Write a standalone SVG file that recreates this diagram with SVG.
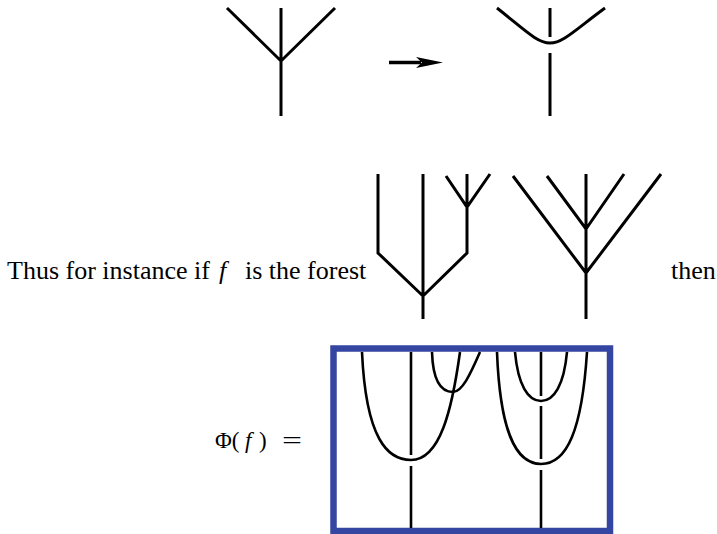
<svg xmlns="http://www.w3.org/2000/svg" width="717" height="534" viewBox="0 0 717 534">
<style>
.ln{fill:none;stroke:#000;stroke-width:3;stroke-linecap:butt;stroke-linejoin:miter}
.cv{fill:none;stroke:#000;stroke-width:2.6}
.tx{font-family:"Liberation Serif","Times New Roman",serif;fill:#000}
.box{fill:none;stroke:#3546a2;stroke-width:6.5}
</style>
<rect width="717" height="534" fill="#fff"/>
<g id="tree-before">
<path class="ln" d="M227,8 L281,61 L335,8 M281,8 L281,116"/>
</g>
<g id="connectors">
<path d="M389,62.5 L421,62.5" stroke="#000" stroke-width="3.5" fill="none"/>
<path d="M443,62.5 L416,57 L422,62.5 L416,68 Z" fill="#000"/>
</g>
<g id="tree-after">
<path class="ln" d="M497,8 C525,30 537,43 550,43 C563,43 575,30 605,8"/>
<path class="ln" d="M550,8 L550,37 M550,53 L550,116"/>
</g>
<g id="caption">
<text class="tx" x="7" y="279" font-size="26">Thus for instance if</text>
<text class="tx" x="219" y="279" font-size="26" font-style="italic">f</text>
<text class="tx" x="245" y="279" font-size="26">is the forest</text>
<text class="tx" x="671" y="279" font-size="26">then</text>
</g>
<g id="forest-tree1">
<path class="ln" d="M378,174 L378,253 L423,296 L467,253 L467,174 M423,174 L423,319 M446,176 L467,207 L490,174"/>
</g>
<g id="forest-tree2">
<path class="ln" d="M586,174 L586,319 M513,176 L586,273 L661,174 M547,176 L586,229 L624,174"/>
</g>
<g id="phi-label">
<text class="tx" x="215" y="448" font-size="23">Φ(</text>
<text class="tx" x="245" y="448" font-size="23" font-style="italic">f</text>
<text class="tx" x="259" y="448" font-size="23">)</text>
<text class="tx" x="282" y="448" font-size="23" textLength="20" lengthAdjust="spacingAndGlyphs">=</text>
</g>
<g id="phi-box">
<rect class="box" x="333.5" y="348.5" width="276.5" height="182.5"/>
<path class="cv" d="M411,352 L411,455 M411,466 L411,528"/>
<path class="cv" d="M362,352 C366,440 388,460 411,460 C440,460 452,410 460,352"/>
<path class="cv" d="M432,352 C433,385 443,392 453,392 C462,392 470,375 480,352"/>
<path class="cv" d="M541,352 L541,396 M541,406 L541,459 M541,470 L541,528"/>
<path class="cv" d="M497,352 C500,430 515,464 541,464 C567,464 582,430 587,352"/>
<path class="cv" d="M515,352 C518,385 528,401 541,401 C554,401 564,385 567,352"/>
</g>
</svg>
